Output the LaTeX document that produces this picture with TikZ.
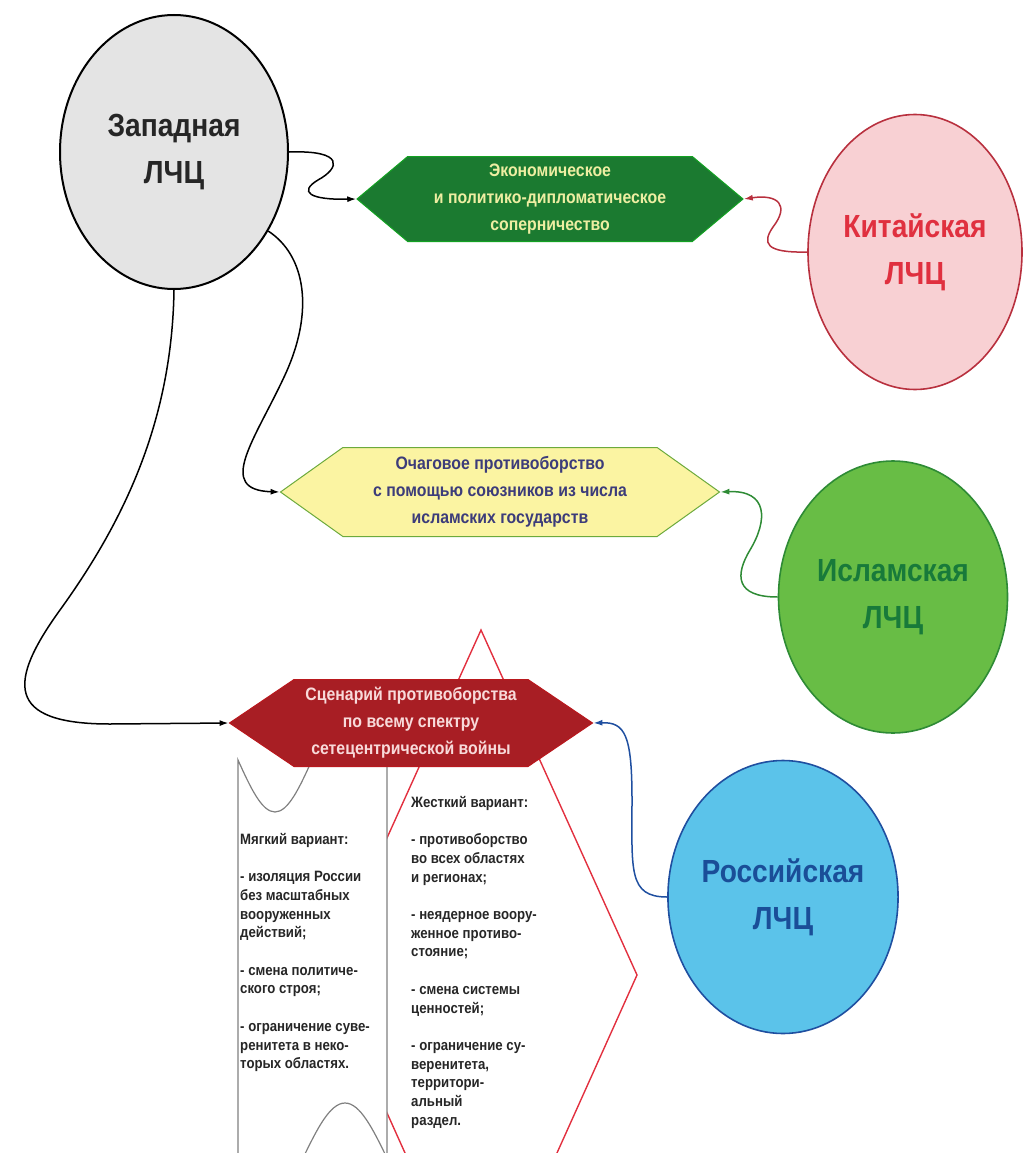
\documentclass[tikz,border=0pt]{standalone}
\usepackage{fontspec}
\setmainfont{Liberation Sans}
\newfontfamily\narrowsans[FakeStretch=0.88]{Liberation Sans}
\usepackage{tikz}
\usetikzlibrary{shapes.geometric,shapes.symbols,arrows.meta,positioning}

\definecolor{westfill}{HTML}{E4E4E4}
\definecolor{chinafill}{HTML}{F8D0D3}
\definecolor{chinaline}{HTML}{B8303E}
\definecolor{chinatext}{HTML}{E0303F}
\definecolor{islamfill}{HTML}{68BD45}
\definecolor{islamline}{HTML}{2E8B35}
\definecolor{islamtext}{HTML}{187A3A}
\definecolor{rusfill}{HTML}{5BC3EA}
\definecolor{rusline}{HTML}{1F4FA0}
\definecolor{rustext}{HTML}{1A4E98}
\definecolor{econfill}{HTML}{1B7A30}
\definecolor{econtext}{HTML}{EEEEA2}
\definecolor{proxyfill}{HTML}{FBF4A2}
\definecolor{proxyline}{HTML}{6CAA3C}
\definecolor{proxytext}{HTML}{3C3C7A}
\definecolor{warfill}{HTML}{A81E24}
\definecolor{wartext}{HTML}{F8DADA}
\definecolor{framered}{HTML}{E2303F}

\begin{document}
\begin{tikzpicture}[x=1pt, y=-1pt,
    lcc/.style={ellipse, draw, line width=1.6pt, minimum width=228pt, minimum height=274pt,
        align=center, inner sep=0pt, font=\narrowsans\bfseries\fontsize{32}{47}\selectfont},
    hexbox/.style={signal, signal to=east and west, draw, line width=1pt, align=center,
        inner sep=0pt, font=\narrowsans\bfseries\fontsize{18}{27}\selectfont},
    notes/.style={align=left, anchor=north west, inner sep=0pt, text=black!85,
        font=\narrowsans\bfseries\fontsize{15}{18.7}\selectfont},
    link/.style={line width=1.5pt, -{Latex[length=9pt,width=6pt]}}]

\useasboundingbox (0,0) rectangle (1025,1153);
\clip (0,0) rectangle (1025,1153);

\draw[framered, line width=1.4pt] (481,630) -- (637,975) -- (481,1322) -- (325,975) -- cycle;
\draw[gray, line width=1.2pt, fill=white] (238,760) sin (275,812) cos (312,760) sin (349,708) cos (387,760)
    -- (387,1158) sin (345,1103) cos (303,1158) sin (270,1212) cos (238,1158) -- cycle;

\node[lcc, fill=westfill, text=black!85, line width=2pt] (western) at (174,152) {Западная\\ЛЧЦ};
\node[lcc, fill=chinafill, draw=chinaline, text=chinatext, minimum width=214pt, minimum height=275pt] (chinese) at (915,252) {Китайская\\ЛЧЦ};
\node[lcc, fill=islamfill, draw=islamline, text=islamtext, minimum width=229pt, minimum height=272pt] (islamic) at (893,597) {Исламская\\ЛЧЦ};
\node[lcc, fill=rusfill, draw=rusline, text=rustext, minimum width=230pt, minimum height=273pt] (russian) at (783,897) {Российская\\ЛЧЦ};

\node[hexbox, fill=econfill, draw=econfill!70!green, text=econtext, signal pointer angle=80,
    minimum width=386pt, minimum height=85pt] (rivalry) at (550,199)
    {Экономическое\\и политико-дипломатическое\\соперничество};
\node[hexbox, fill=proxyfill, draw=proxyline, text=proxytext, signal pointer angle=71,
    minimum width=439pt, minimum height=89pt] (proxy) at (500,492)
    {Очаговое противоборство\\с помощью союзников из числа\\исламских государств};
\node[hexbox, fill=warfill, draw=warfill!80!red, text=wartext, signal pointer angle=68,
    minimum width=363pt, minimum height=87pt] (netwar) at (411,723)
    {Сценарий противоборства\\по всему спектру\\сетецентрической войны};

\node[notes] (soft) at (240,833) {Мягкий вариант:\\[18.7pt]
    - изоляция России\\без масштабных\\вооруженных\\действий;\\[18.7pt]
    - смена политиче-\\ского строя;\\[18.7pt]
    - ограничение суве-\\ренитета в неко-\\торых областях.};
\node[notes] (hard) at (411,796) {Жесткий вариант:\\[18.7pt]
    - противоборство\\во всех областях\\и регионах;\\[18.7pt]
    - неядерное воору-\\женное противо-\\стояние;\\[18.7pt]
    - смена системы\\ценностей;\\[18.7pt]
    - ограничение су-\\веренитета,\\территори-\\альный\\раздел.};

\draw[link] (western.east) .. controls (345,150) and (340,168) .. (318,180)
    .. controls (298,192) and (310,200) .. (rivalry.west);
\draw[link] (western.-40) .. controls (305,255) and (315,310) .. (285,375)
    .. controls (255,440) and (215,490) .. (proxy.west);
\draw[link] (western.south) .. controls (172,420) and (125,520) .. (60,610)
    .. controls (8,682) and (5,724) .. (110,724) -- (netwar.west);
\draw[link, chinaline] (chinese.west) .. controls (765,253) and (762,243) .. (773,227)
    .. controls (790,205) and (778,194) .. (rivalry.east);
\draw[link, islamline] (islamic.west) .. controls (735,597) and (735,575) .. (750,550)
    .. controls (768,520) and (768,490) .. (proxy.east);
\draw[link, rusline] (russian.west) .. controls (628,897) and (632,870) .. (632,800)
    .. controls (632,735) and (625,722) .. (netwar.east);
\end{tikzpicture}
\end{document}
